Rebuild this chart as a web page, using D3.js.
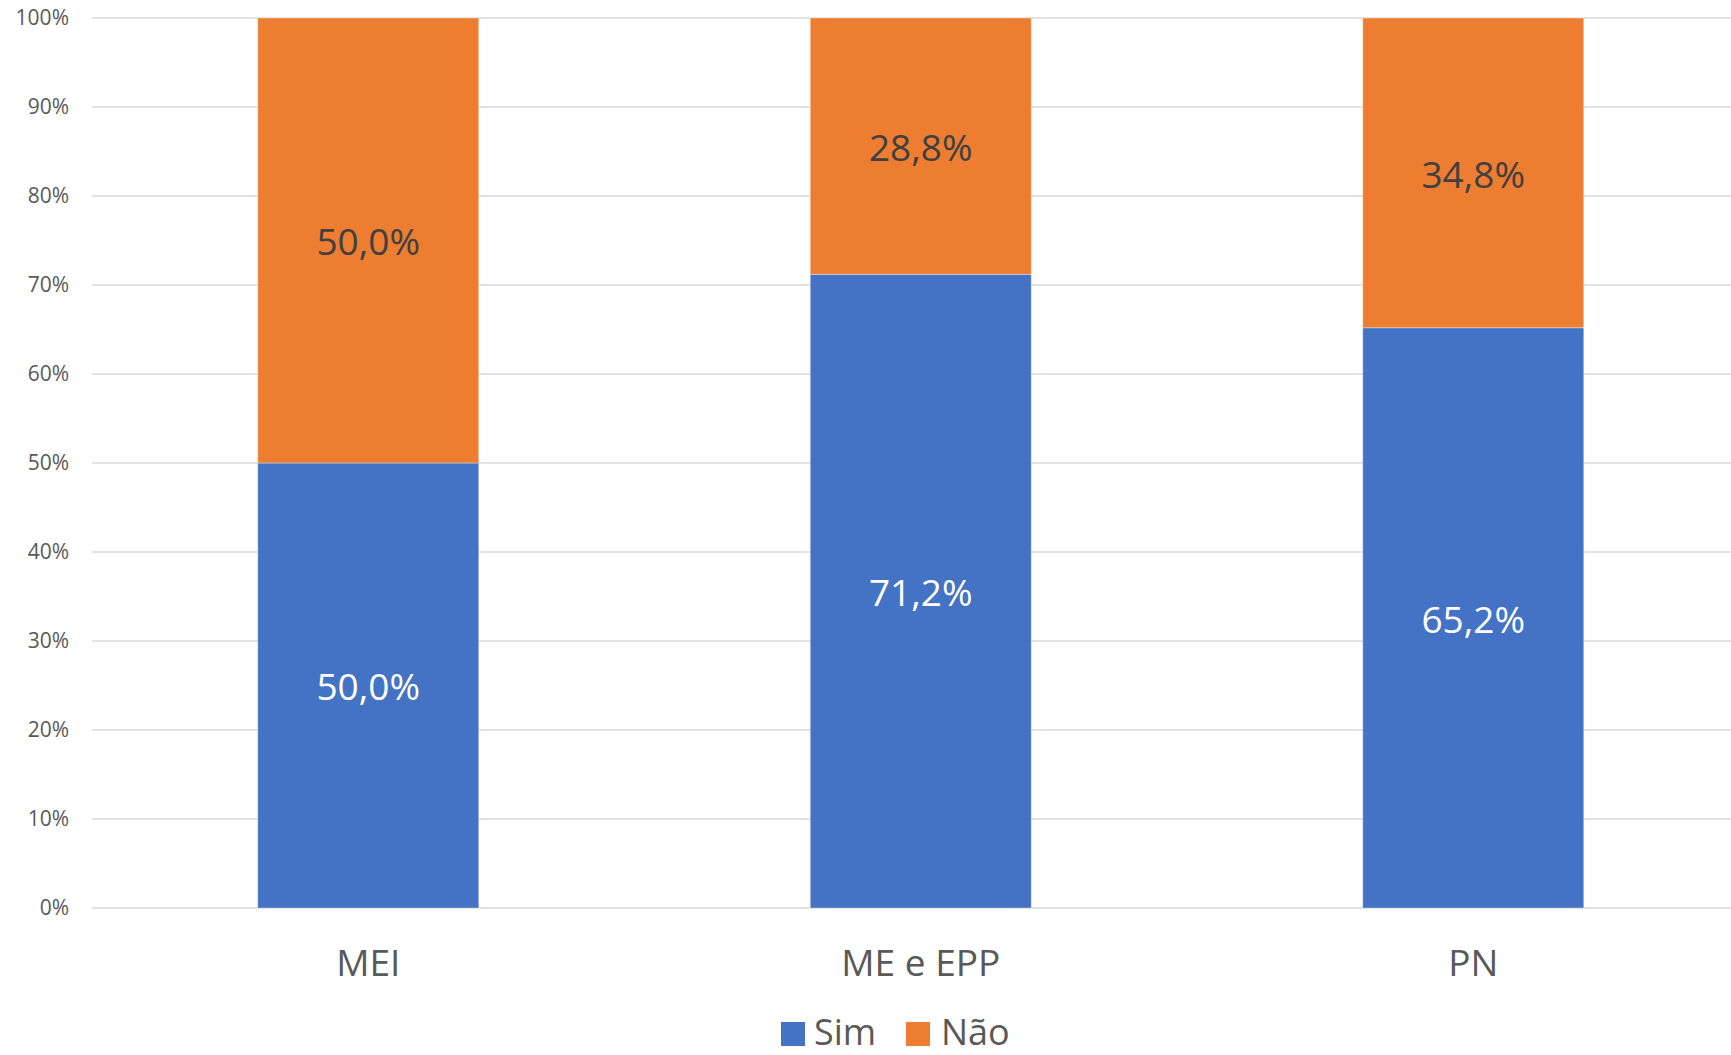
<!DOCTYPE html>
<html>
<head>
<meta charset="utf-8">
<script src="https://cdn.jsdelivr.net/npm/d3@7"></script>
<style>
  html, body { margin: 0; padding: 0; background: #fff; }
  svg { display: block; font-family: "Open Sans", sans-serif; }
</style>
</head>
<body>
<svg id="chart" width="1731" height="1055"></svg>
<script>
const categories = ["MEI", "ME e EPP", "PN"];
const seriesNames = ["Sim", "Não"];
const simValues = [50.0, 71.2, 65.2];
const naoValues = [50.0, 28.8, 34.8];
const yTicks = [0, 10, 20, 30, 40, 50, 60, 70, 80, 90, 100];
const colors = ["#4472C4", "#ED7D31"];
const labelColors = ["#FFFFFF", "#404040"];

(function () {
const svg = d3.select("#chart");
const pLeft = 92, pRight = 1749.5, pTop = 18, pBottom = 908;

const x = d3.scaleBand().domain(categories).range([pLeft, pRight])
  .paddingInner(0.6).paddingOuter(0.3);
const y = d3.scaleLinear().domain([0, 100]).range([pBottom, pTop]);

// gridlines
svg.append("g").selectAll("line").data(yTicks).join("line")
  .attr("x1", pLeft).attr("x2", 1731)
  .attr("y1", d => y(d)).attr("y2", d => y(d))
  .attr("stroke", "#D9D9D9").attr("stroke-width", 1.5);

// y axis labels
const yAxis = d3.axisLeft(y).tickValues(yTicks).tickFormat(d => d + "%").tickSize(0).tickPadding(0);
const ya = svg.append("g").attr("transform", `translate(69,0)`).call(yAxis);
ya.select(".domain").remove();
ya.selectAll("text").attr("font-size", 21).attr("fill", "#595959")
  .attr("font-family", "'Open Sans', sans-serif");

// stacked data
const rows = categories.map((c, i) => ({ cat: c, Sim: simValues[i], "Não": naoValues[i] }));
const stack = d3.stack().keys(seriesNames)(rows);

const groups = svg.append("g").selectAll("g").data(stack).join("g")
  .attr("fill", (d, i) => colors[i]);

groups.selectAll("rect").data(d => d).join("rect")
  .attr("x", d => x(d.data.cat))
  .attr("width", x.bandwidth())
  .attr("y", d => y(d[1]))
  .attr("height", d => y(d[0]) - y(d[1]))
  .attr("stroke", "#ffffff").attr("stroke-opacity", 0.35).attr("stroke-width", 1);

// value labels
stack.forEach((s, si) => {
  svg.append("g").selectAll("text").data(s).join("text")
    .attr("x", d => x(d.data.cat) + x.bandwidth() / 2)
    .attr("y", d => (y(d[0]) + y(d[1])) / 2)
    .attr("dy", "0.4em")
    .attr("text-anchor", "middle")
    .attr("font-size", 37)
    .attr("fill", labelColors[si])
    .text(d => (d[1] - d[0]).toFixed(1).replace(".", ",") + "%");
});

// x axis labels
const xAxis = d3.axisBottom(x).tickSize(0).tickPadding(0);
const xa = svg.append("g").attr("transform", `translate(0,${pBottom})`).call(xAxis);
xa.select(".domain").remove();
xa.selectAll("text").attr("font-size", 37).attr("fill", "#595959")
  .attr("font-family", "'Open Sans', sans-serif")
  .attr("dy", null).attr("y", 68);

// legend
const legendItems = [
  { name: seriesNames[0], color: colors[0], sx: 781, tx: 814 },
  { name: seriesNames[1], color: colors[1], sx: 906, tx: 941 }
];
const lg = svg.append("g");
lg.selectAll("rect").data(legendItems).join("rect")
  .attr("x", d => d.sx).attr("y", 1022).attr("width", 24).attr("height", 24)
  .attr("fill", d => d.color);
lg.selectAll("text").data(legendItems).join("text")
  .attr("x", d => d.tx).attr("y", 1045)
  .attr("font-size", 36).attr("fill", "#595959")
  .text(d => d.name);
})();
</script>
</body>
</html>
